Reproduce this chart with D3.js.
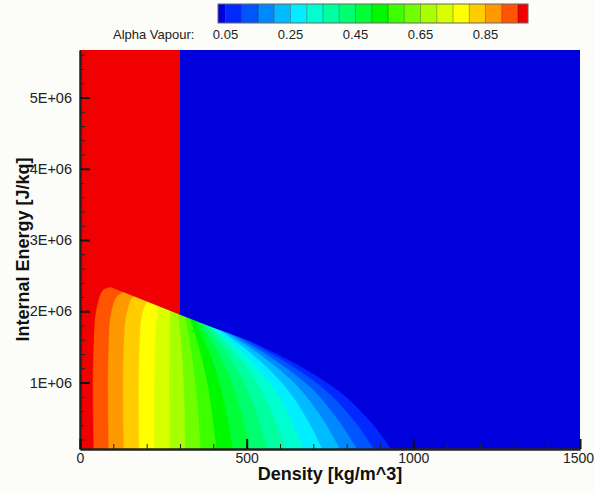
<!DOCTYPE html>
<html>
<head>
<meta charset="utf-8">
<script src="https://cdn.jsdelivr.net/npm/d3@7"></script>
<style>
  body { margin: 0; background: #fcfcf8; }
  text { font-family: "Liberation Sans", Arial, sans-serif; }
</style>
</head>
<body>
<svg width="595" height="492"></svg>
<script>
// contour levels of the legend and their labels
const levels = [0.05, 0.10, 0.15, 0.20, 0.25, 0.30, 0.35, 0.40, 0.45, 0.50,
                0.55, 0.60, 0.65, 0.70, 0.75, 0.80, 0.85, 0.90, 0.95];
const levelLabels = [0.05, 0.25, 0.45, 0.65, 0.85];
// flood colour of each band: below 0.05, between levels, above 0.95
const bandColors = ["#0000dc", "#0028ff", "#0055ff", "#0088ff", "#00bbff",
                    "#00eeff", "#00ffd0", "#00ffa0", "#00ff70", "#00ff38",
                    "#00f800", "#3cff00", "#70ff00", "#a8ff00", "#d8ff00",
                    "#ffff00", "#ffcc00", "#ff9900", "#ff5500", "#f00000"];

const densityTicks = [0, 500, 1000, 1500];
const energyTicks = [1e6, 2e6, 3e6, 4e6, 5e6];

// upper limit of the two-phase zone [density, energy]
const satBoundary = [[0, 2.51e6], [150, 2.23e6], [300, 1.95e6], [400, 1.77e6],
                     [500, 1.60e6], [600, 1.40e6], [700, 1.15e6], [800, 0.84e6],
                     [900, 0.48e6], [930, 0.36e6], [960, 0.20e6], [985, 0.067e6],
                     [995, 0]];
// above the boundary: vapour (alpha 1) left of this density, 0 right of it
const vapourLimit = 300;

// iso-lines, one per level, bottom -> boundary
const contours = [
  [[942, 0], [858, 0.515e6], [773, 0.888e6], [647, 1.261e6], [520, 1.56e6]],
  [[890, 0], [809, 0.535e6], [728, 0.924e6], [607, 1.314e6], [485, 1.626e6]],
  [[838, 0], [762, 0.547e6], [687, 0.948e6], [573, 1.348e6], [460, 1.668e6]],
  [[786, 0], [717, 0.558e6], [648, 0.966e6], [544, 1.375e6], [440, 1.702e6]],
  [[732, 0], [670, 0.568e6], [607, 0.985e6], [514, 1.402e6], [420, 1.736e6]],
  [[676, 0], [622, 0.576e6], [568, 0.999e6], [486, 1.423e6], [405, 1.762e6]],
  [[620, 0], [574, 0.583e6], [528, 1.014e6], [459, 1.444e6], [390, 1.788e6]],
  [[565, 0], [527, 0.591e6], [489, 1.028e6], [432, 1.465e6], [375, 1.815e6]],
  [[512, 0], [482, 0.600e6], [451, 1.043e6], [406, 1.487e6], [360, 1.842e6]],
  [[460, 0], [437, 0.608e6], [414, 1.058e6], [380, 1.509e6], [345, 1.869e6]],
  [[410, 0], [394, 0.616e6], [378, 1.073e6], [354, 1.530e6], [330, 1.896e6]],
  [[362, 0], [353, 0.624e6], [343, 1.088e6], [329, 1.552e6], [315, 1.923e6]],
  [[315, 0], [310, 1.0e6], [302, 1.6e6], [294, 1.96e6]],
  [[268, 0], [267, 1.0e6], [268, 1.75e6], [270, 2.005e6]],
  [[222, 0], [222, 1.0e6], [226, 1.75e6], [236, 2.069e6]],
  [[176, 0], [175, 1.0e6], [180, 1.75e6], [189, 2.02e6], [200, 2.136e6]],
  [[130, 0], [128, 1.0e6], [133, 1.75e6], [143, 2.04e6], [153, 2.17e6], [162, 2.207e6]],
  [[85, 0], [83, 1.0e6], [87, 1.75e6], [98, 2.08e6], [113, 2.22e6], [128, 2.27e6]],
  [[40, 0], [38, 1.0e6], [42, 1.75e6], [52, 2.1e6], [68, 2.3e6], [90, 2.342e6]]
];

const svg = d3.select("svg");
const pL = 80, pR = 580, pT = 50, pB = 449;

const x = d3.scaleLinear().domain([0, 1500]).range([pL, pR]);
const y = d3.scaleLinear().domain([0.0667e6, 5.667e6]).range([pB, pT]);

const defs = svg.append("defs");
defs.append("clipPath").attr("id", "plotClip")
  .append("rect")
  .attr("x", pL).attr("y", pT)
  .attr("width", pR - pL).attr("height", pB - pT);
// vapour side / liquid side of the region above the boundary
defs.append("clipPath").attr("id", "leftClip")
  .append("rect")
  .attr("x", pL).attr("y", pT)
  .attr("width", x(vapourLimit) - pL).attr("height", pB - pT);
defs.append("clipPath").attr("id", "rightClip")
  .append("rect")
  .attr("x", x(vapourLimit)).attr("y", pT)
  .attr("width", pR - x(vapourLimit)).attr("height", pB - pT);

const plot = svg.append("g").attr("clip-path", "url(#plotClip)");

// base colour: alpha below 0.05
plot.append("rect")
  .attr("x", pL).attr("y", pT)
  .attr("width", pR - pL).attr("height", pB - pT)
  .attr("fill", bandColors[0]);

const isoLine = d3.line()
  .x(d => x(d[0])).y(d => y(d[1]))
  .curve(d3.curveMonotoneY);

// region where alpha >= level, filled with the band above it
contours.forEach((pts, i) => {
  const topDown = pts.slice().reverse();
  const rhoT = topDown[0][0];
  const d = isoLine(topDown) +
    "L" + x(-50) + "," + y(topDown[topDown.length - 1][1]) +
    "L" + x(-50) + "," + y(7e6) +
    "L" + x(rhoT) + "," + y(7e6) + "Z";
  plot.append("path")
    .attr("d", d)
    .attr("fill", bandColors[i + 1])
    .attr("stroke", bandColors[i + 1])
    .attr("stroke-width", 0.5);
});

// single-phase region above the boundary, drawn over the bands
const boundaryLine = d3.line()
  .x(d => x(d[0])).y(d => y(d[1]))
  .curve(d3.curveMonotoneX);
const abovePath = boundaryLine(satBoundary) +
  "L" + x(1600) + "," + y(-1e6) +
  "L" + x(1600) + "," + y(7e6) +
  "L" + x(-50) + "," + y(7e6) +
  "L" + x(-50) + "," + y(2.6e6) + "Z";
plot.append("g").attr("clip-path", "url(#rightClip)")
  .append("path").attr("d", abovePath).attr("fill", bandColors[0]);
plot.append("g").attr("clip-path", "url(#leftClip)")
  .append("path").attr("d", abovePath).attr("fill", bandColors[bandColors.length - 1]);

// axes
const minorY = d3.range(2e5, 5.7e6, 2e5).filter(v => Math.round(v / 1e5) % 10 !== 0);
const minorX = d3.range(100, 1500, 100).filter(v => v % 500 !== 0);

const gy = svg.append("g").attr("transform", `translate(${pL},0)`);
gy.call(d3.axisLeft(y).tickValues(minorY).tickSize(-5).tickSizeOuter(0).tickFormat(""));
gy.selectAll(".tick line").attr("stroke", "#222").attr("stroke-width", 1);
const gyMaj = svg.append("g").attr("transform", `translate(${pL},0)`)
  .call(d3.axisLeft(y).tickValues(energyTicks).tickSize(-10).tickSizeOuter(0)
    .tickPadding(8).tickFormat(d => (d / 1e6) + "E+06"));
gyMaj.selectAll(".tick line").attr("stroke", "#111").attr("stroke-width", 2);
gyMaj.selectAll("text").attr("font-size", 14.5).attr("fill", "#222")
  .style("font-family", '"Liberation Sans", Arial, sans-serif');

const gx = svg.append("g").attr("transform", `translate(0,${pB})`);
gx.call(d3.axisBottom(x).tickValues(minorX).tickSize(-5).tickSizeOuter(0).tickFormat(""));
gx.selectAll(".tick line").attr("stroke", "#222").attr("stroke-width", 1);
const gxMaj = svg.append("g").attr("transform", `translate(0,${pB})`)
  .call(d3.axisBottom(x).tickValues(densityTicks).tickSize(-10).tickSizeOuter(0)
    .tickPadding(4).tickFormat(d3.format("d")));
gxMaj.selectAll(".tick line").attr("stroke", "#111").attr("stroke-width", 2);
gxMaj.selectAll("text").attr("font-size", 14).attr("fill", "#222")
  .style("font-family", '"Liberation Sans", Arial, sans-serif');
// last label sits against the window edge
gxMaj.selectAll("text").filter(d => d === 1500).attr("dx", -2);

svg.selectAll(".domain").attr("stroke", "#222").attr("stroke-width", 2);

// axis titles
svg.append("text")
  .attr("x", (pL + pR) / 2).attr("y", 480)
  .attr("text-anchor", "middle")
  .attr("font-size", 18).attr("font-weight", "bold").attr("fill", "#111")
  .text("Density [kg/m^3]");
svg.append("text")
  .attr("transform", `translate(29,${(pT + pB) / 2}) rotate(-90)`)
  .attr("text-anchor", "middle")
  .attr("font-size", 18).attr("font-weight", "bold").attr("fill", "#111")
  .text("Internal Energy [J/kq]");

// colour legend
const lx = d3.scaleLinear().domain([0.05, 0.95]).range([225.5, 518]);
const barL = 218, barR = 528, barT = 4, barH = 19;
const edges = [barL].concat(levels.map(lx)).concat([barR]);
const legend = svg.append("g");
legend.selectAll("rect.band")
  .data(bandColors)
  .join("rect")
  .attr("class", "band")
  .attr("x", (d, i) => edges[i])
  .attr("y", barT)
  .attr("width", (d, i) => edges[i + 1] - edges[i])
  .attr("height", barH)
  .attr("fill", d => d);
legend.selectAll("line.sep")
  .data(levels)
  .join("line")
  .attr("class", "sep")
  .attr("x1", d => lx(d)).attr("x2", d => lx(d))
  .attr("y1", barT).attr("y2", barT + barH)
  .attr("stroke", "#000").attr("stroke-opacity", 0.3);
legend.append("rect")
  .attr("x", barL).attr("y", barT)
  .attr("width", barR - barL).attr("height", barH)
  .attr("fill", "none").attr("stroke", "#666").attr("stroke-width", 1);
legend.append("text")
  .attr("x", 113).attr("y", 39)
  .attr("font-size", 13).attr("fill", "#222")
  .text("Alpha Vapour:");
legend.selectAll("text.lab")
  .data(levelLabels)
  .join("text")
  .attr("class", "lab")
  .attr("x", d => lx(d)).attr("y", 39)
  .attr("text-anchor", "middle")
  .attr("font-size", 13).attr("fill", "#222")
  .text(d => d.toFixed(2));
</script>
</body>
</html>
